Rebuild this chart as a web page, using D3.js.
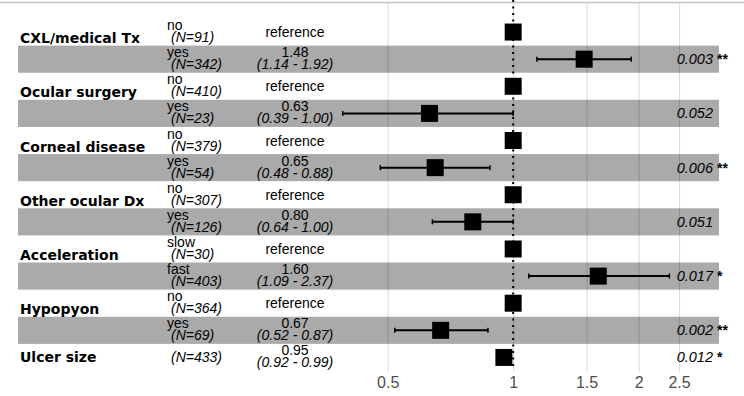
<!DOCTYPE html>
<html lang="en">
	<head>
		<meta charset="utf-8">
		<title>forest plot</title>
		<script src="https://d3js.org/d3.v7.min.js"></script>
		<style>
			body { margin: 0; background: #fff; }
		</style>
	</head>

	<body>
		<script type="text/javascript">

			// data, one entry per row
			var variables = ["CXL/medical Tx", "Ocular surgery", "Corneal disease", "Other ocular Dx", "Acceleration", "Hypopyon", "Ulcer size"]
			var rowVariable = [0, 0, 1, 1, 2, 2, 3, 3, 4, 4, 5, 5, 6]
			var rowLevel = ["no", "yes", "no", "yes", "no", "yes", "no", "yes", "slow", "fast", "no", "yes", ""]
			var rowN = [91, 342, 410, 23, 379, 54, 307, 126, 30, 403, 364, 69, 433]
			var estimate = [1, 1.48, 1, 0.63, 1, 0.65, 1, 0.80, 1, 1.60, 1, 0.67, 0.95]
			var ciLow = [null, 1.14, null, 0.39, null, 0.48, null, 0.64, null, 1.09, null, 0.52, 0.92]
			var ciHigh = [null, 1.92, null, 1.00, null, 0.88, null, 1.00, null, 2.37, null, 0.87, 0.99]
			var pValue = ["", "0.003", "", "0.052", "", "0.006", "", "0.051", "", "0.017", "", "0.002", "0.012"]
			var stars = ["", "**", "", "", "", "**", "", "", "", "*", "", "**", "*"]
			var xTicks = [0.5, 1, 1.5, 2, 2.5]

			// window setup
			var w = 744
			var h = 396

			var rows = rowN.map(function(n, i){
				return {i: i, v: rowVariable[i], level: rowLevel[i], n: n, est: estimate[i],
						lo: ciLow[i], hi: ciHigh[i], p: pValue[i], stars: stars[i]}
			})

			// scales
			var x = d3.scaleLog()
						.domain([0.38, 2.7])
						.range([338, 693])

			var y = d3.scaleBand()
						.domain(d3.range(rows.length))
						.range([18.5, 371])

			var fmt = d3.format(".2f")

			var svg = d3.select("body")
						.append("svg")
						.attr("width", w)
						.attr("height", h)
						.style("font-family", "'Liberation Sans', Arial, sans-serif")

			// stripes on every second row
			svg.selectAll("rect.band")
				.data(rows.filter(function(d){ return d.i % 2 == 1 }))
				.enter()
				.append("rect")
				.attr("class", "band")
				.attr("x", 18)
				.attr("width", 701)
				.attr("y", function(d){ return y(d.i) })
				.attr("height", y.bandwidth())
				.style("fill", "#aaaaaa")

			// top rule
			svg.append("line")
				.attr("x1", 0).attr("x2", w)
				.attr("y1", 2.5).attr("y2", 2.5)
				.style("stroke", "#c4c4c4")
				.style("stroke-width", 1.5)

			// x axis, grid lines and tick labels
			var axis = d3.axisBottom(x)
						.tickValues(xTicks)
						.tickFormat(d3.format("~g"))
						.tickSize(-369)
						.tickPadding(5)

			var gAxis = svg.append("g")
				.attr("transform", "translate(0,372)")
				.call(axis)

			gAxis.select(".domain").remove()
			gAxis.selectAll(".tick line")
				.style("stroke", "#000")
				.style("stroke-opacity", 0.15)
			gAxis.selectAll(".tick text")
				.style("font-size", "16px")
				.style("fill", "#4d4d4d")
				.style("font-family", "'Liberation Sans', Arial, sans-serif")

			// reference line
			svg.append("line")
				.attr("x1", x(1)).attr("x2", x(1))
				.attr("y1", 0).attr("y2", 368)
				.style("stroke", "#000")
				.style("stroke-width", 2)
				.style("stroke-dasharray", "2,4.5")

			// confidence intervals
			var ci = svg.selectAll("g.ci")
				.data(rows.filter(function(d){ return d.lo != null }))
				.enter()
				.append("g")
				.attr("class", "ci")

			ci.append("line")
				.attr("x1", function(d){ return x(d.lo) })
				.attr("x2", function(d){ return x(d.hi) })
				.attr("y1", function(d){ return y(d.i) + y.bandwidth() / 2 })
				.attr("y2", function(d){ return y(d.i) + y.bandwidth() / 2 })
				.style("stroke", "#000")
				.style("stroke-width", 2)

			ci.selectAll("line.cap")
				.data(function(d){ return [d.lo, d.hi].map(function(v){ return {v: v, i: d.i} }) })
				.enter()
				.append("line")
				.attr("class", "cap")
				.attr("x1", function(d){ return x(d.v) })
				.attr("x2", function(d){ return x(d.v) })
				.attr("y1", function(d){ return y(d.i) + y.bandwidth() / 2 - 2.5 })
				.attr("y2", function(d){ return y(d.i) + y.bandwidth() / 2 + 2.5 })
				.style("stroke", "#000")
				.style("stroke-width", 1.5)

			// point estimates
			var sq = 17
			svg.selectAll("rect.est")
				.data(rows)
				.enter()
				.append("rect")
				.attr("class", "est")
				.attr("x", function(d){ return x(d.est) - sq / 2 })
				.attr("y", function(d){ return y(d.i) + y.bandwidth() / 2 - sq / 2 })
				.attr("width", sq)
				.attr("height", sq)
				.style("fill", "#000")

			// variable names
			svg.selectAll("text.var")
				.data(rows.filter(function(d, i){ return i == 0 || rowVariable[i - 1] != d.v }))
				.enter()
				.append("text")
				.attr("class", "var")
				.attr("x", 20)
				.attr("y", function(d){
					var c = y(d.i) + y.bandwidth() / 2
					return d.level == "" ? c + 5 : c + 11
				})
				.style("font-family", "'DejaVu Sans', Verdana, sans-serif")
				.style("font-weight", "bold")
				.style("font-size", "14px")
				.text(function(d){ return variables[d.v] })

			// level and N
			var lev = svg.selectAll("g.lev")
				.data(rows)
				.enter()
				.append("g")
				.attr("class", "lev")
				.attr("transform", function(d){ return "translate(0," + (y(d.i) + y.bandwidth() / 2) + ")" })

			lev.append("text")
				.attr("x", 167)
				.attr("y", -2)
				.style("font-size", "14px")
				.text(function(d){ return d.level })

			lev.append("text")
				.attr("x", 171)
				.attr("y", function(d){ return d.level == "" ? 5 : 10 })
				.style("font-size", "14px")
				.style("font-style", "italic")
				.text(function(d){ return "(N=" + d.n + ")" })

			// estimate text
			lev.append("text")
				.attr("x", 295)
				.attr("y", function(d){ return d.lo == null ? 5 : -2 })
				.attr("text-anchor", "middle")
				.style("font-size", "14px")
				.text(function(d){ return d.lo == null ? "reference" : fmt(d.est) })

			lev.filter(function(d){ return d.lo != null })
				.append("text")
				.attr("x", 295)
				.attr("y", 10)
				.attr("text-anchor", "middle")
				.style("font-size", "14px")
				.style("font-style", "italic")
				.text(function(d){ return "(" + fmt(d.lo) + " - " + fmt(d.hi) + ")" })

			// p values
			lev.append("text")
				.attr("x", 713)
				.attr("y", 5)
				.attr("text-anchor", "end")
				.style("font-size", "14.5px")
				.style("font-style", "italic")
				.text(function(d){ return d.p })

			lev.append("text")
				.attr("x", 717)
				.attr("y", 5)
				.style("font-size", "14px")
				.style("font-weight", "bold")
				.text(function(d){ return d.stars })

		</script>

	</body>
</html>
